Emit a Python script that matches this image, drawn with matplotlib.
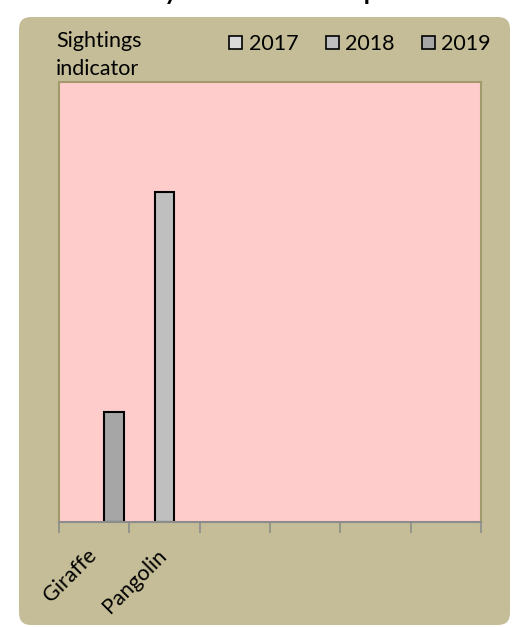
import numpy as np
import matplotlib.pyplot as plt
from matplotlib.patches import FancyBboxPatch, Patch
from matplotlib.transforms import IdentityTransform, ScaledTranslation

categories = ["Giraffe", "Pangolin", "", "", "", ""]
years = ["2017", "2018", "2019"]
sightings_2017 = [np.nan, np.nan, np.nan, np.nan, np.nan, np.nan]
sightings_2018 = [np.nan, 3, np.nan, np.nan, np.nan, np.nan]
sightings_2019 = [1, np.nan, np.nan, np.nan, np.nan, np.nan]
colors = ["#D9D9D9", "#BFBFBF", "#A6A6A6"]

plt.rcParams['font.family'] = ['Lato', 'DejaVu Sans']

fig = plt.figure(figsize=(5.2, 6.27), dpi=100)
fig.patch.set_facecolor('white')

# rounded tan panel behind everything
panel = FancyBboxPatch((19, 2), 491, 608, boxstyle="round,pad=0,rounding_size=12",
                       transform=IdentityTransform(), facecolor='#C4BD97',
                       edgecolor='none', zorder=-10)
fig.patches.append(panel)

# title sits mostly above the top edge, only descenders show
fig.text(0.504, 1.0, "Activity Index for Each Species", ha='center', va='baseline',
         fontsize=18, fontweight='bold')

ax = fig.add_axes([59 / 520, 105 / 627, 422 / 520, 440 / 627])
ax.set_facecolor('#FFCCCC')

x = np.arange(len(categories))
w = 0.28
for i, (vals, c) in enumerate(zip([sightings_2017, sightings_2018, sightings_2019], colors)):
    ax.bar(x + (i - 1) * w, np.array(vals, dtype=float), width=w, color=c,
           edgecolor='black', linewidth=1.5, zorder=2)

ax.set_xlim(-0.5, len(categories) - 0.5)
ax.set_ylim(0, 4)
ax.set_yticks([])

ax.set_xticks(x)
ax.set_xticklabels(categories, rotation=45, ha='right', va='top',
                   rotation_mode='anchor', fontsize=15.5)
ax.tick_params(axis='x', which='major', length=0, pad=14)
shift = ScaledTranslation(-8 / 100, -4 / 100, fig.dpi_scale_trans)
for lab in ax.get_xticklabels():
    lab.set_transform(lab.get_transform() + shift)
ax.set_xticks(np.arange(len(categories) + 1) - 0.5, minor=True)
ax.tick_params(axis='x', which='minor', length=8, width=1.2, color='#8C8C8C')

for side in ['left', 'right', 'top']:
    ax.spines[side].set_color('#A39A6C')
    ax.spines[side].set_linewidth(1.5)
ax.spines['bottom'].set_color('#8C8C8C')
ax.spines['bottom'].set_linewidth(1.5)

fig.text(56 / 520, 1 - 47 / 627, "Sightings", ha='left', va='baseline', fontsize=15.5)
fig.text(56 / 520, 1 - 75 / 627, "indicator", ha='left', va='baseline', fontsize=15.5)

handles = [Patch(facecolor=c, edgecolor='black', linewidth=1.2) for c in colors]
fig.legend(handles, years, loc='center right', bbox_to_anchor=(491 / 520, 1 - 44 / 627),
           ncol=3, frameon=False, fontsize=15.5, handlelength=0.6, handleheight=0.6,
           handletextpad=0.3, columnspacing=1.27, borderaxespad=0, borderpad=0)

fig.savefig('out.png', dpi=100)
